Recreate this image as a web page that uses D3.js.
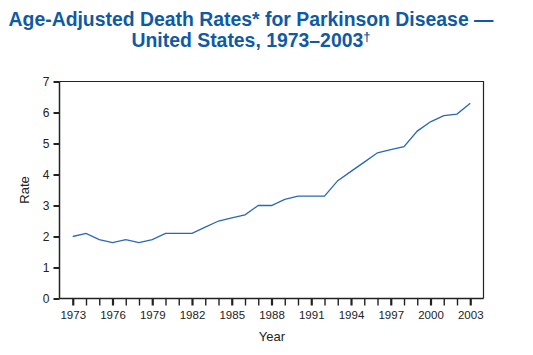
<!DOCTYPE html>
<html><head><meta charset="utf-8">
<script src="https://cdn.jsdelivr.net/npm/d3@7"></script>
<style>body{margin:0;background:#fff;}svg{display:block;font-family:"Liberation Sans",Arial,Helvetica,sans-serif;}</style>
</head><body>
<svg id="c" width="533" height="355"></svg>
<script>
const years = [1973,1974,1975,1976,1977,1978,1979,1980,1981,1982,1983,1984,1985,1986,1987,1988,1989,1990,1991,1992,1993,1994,1995,1996,1997,1998,1999,2000,2001,2002,2003];
const rates = [2.0,2.1,1.9,1.8,1.9,1.8,1.9,2.1,2.1,2.1,2.3,2.5,2.6,2.7,3.0,3.0,3.2,3.3,3.3,3.3,3.8,4.1,4.4,4.7,4.8,4.9,5.4,5.7,5.9,5.95,6.3];
const xTickLabels = [1973,1976,1979,1982,1985,1988,1991,1994,1997,2000,2003];
const yTicks = [0,1,2,3,4,5,6,7];
const titleLines = ["Age-Adjusted Death Rates* for Parkinson Disease \u2014","United States, 1973\u20132003"];

const svg = d3.select("#c");
const L=59.5, R=483.5, T=81.5, B=298.5;
const x = d3.scaleLinear().domain([1972,2004]).range([L,R]);
const y = d3.scaleLinear().domain([0,7]).range([B,T]);

// title
const title = svg.append("text").attr("text-anchor","middle").attr("fill","#0f5aa5")
  .attr("font-weight","bold").attr("font-size",19.4);
title.append("tspan").attr("x",251).attr("y",26).text(titleLines[0]);
title.append("tspan").attr("x",251).attr("y",47).text(titleLines[1]).append("tspan")
  .attr("font-size",13).attr("dy",-6).text("\u2020");

// frame top & right
svg.append("path").attr("d",`M${L},${T}H${R}V${B}`).attr("fill","none").attr("stroke","#222").attr("stroke-width",1.2);

// y axis
const ya = svg.append("g").attr("transform",`translate(${L},0)`)
  .call(d3.axisLeft(y).tickValues(yTicks).tickSize(6).tickPadding(4).tickFormat(d3.format("d")));
ya.select(".domain").attr("stroke","#222").attr("stroke-width",1.5).attr("d",`M0,${T}V${B}`);
ya.selectAll(".tick line").attr("stroke","#222").attr("stroke-width",2);
ya.selectAll(".tick text").attr("font-size",12).attr("fill","#222").attr("font-family","Liberation Sans, Arial, sans-serif");

// x axis
const xa = svg.append("g").attr("transform",`translate(0,${B})`)
  .call(d3.axisBottom(x).tickValues(years).tickSize(7).tickPadding(5)
    .tickFormat(d => xTickLabels.includes(d) ? d : ""));
xa.select(".domain").attr("stroke","#222").attr("stroke-width",1.5).attr("d",`M${L},0H${R}`);
xa.selectAll(".tick line").attr("stroke","#222").attr("stroke-width",d => xTickLabels.includes(d)?2.2:1.4);
xa.selectAll(".tick text").attr("font-size",11.5).attr("fill","#222").attr("font-family","Liberation Sans, Arial, sans-serif");

// axis titles
svg.append("text").attr("x",272).attr("y",341).attr("text-anchor","middle")
  .attr("font-size",13).attr("fill","#222").text("Year");
svg.append("text").attr("transform","translate(29,190) rotate(-90)").attr("text-anchor","middle")
  .attr("font-size",13).attr("fill","#222").text("Rate");

// line
const line = d3.line().x((d,i)=>x(years[i])).y(d=>y(d));
svg.append("path").datum(rates).attr("d",line).attr("fill","none")
  .attr("stroke","#2a68b4").attr("stroke-width",1.3);
</script>
</body></html>
